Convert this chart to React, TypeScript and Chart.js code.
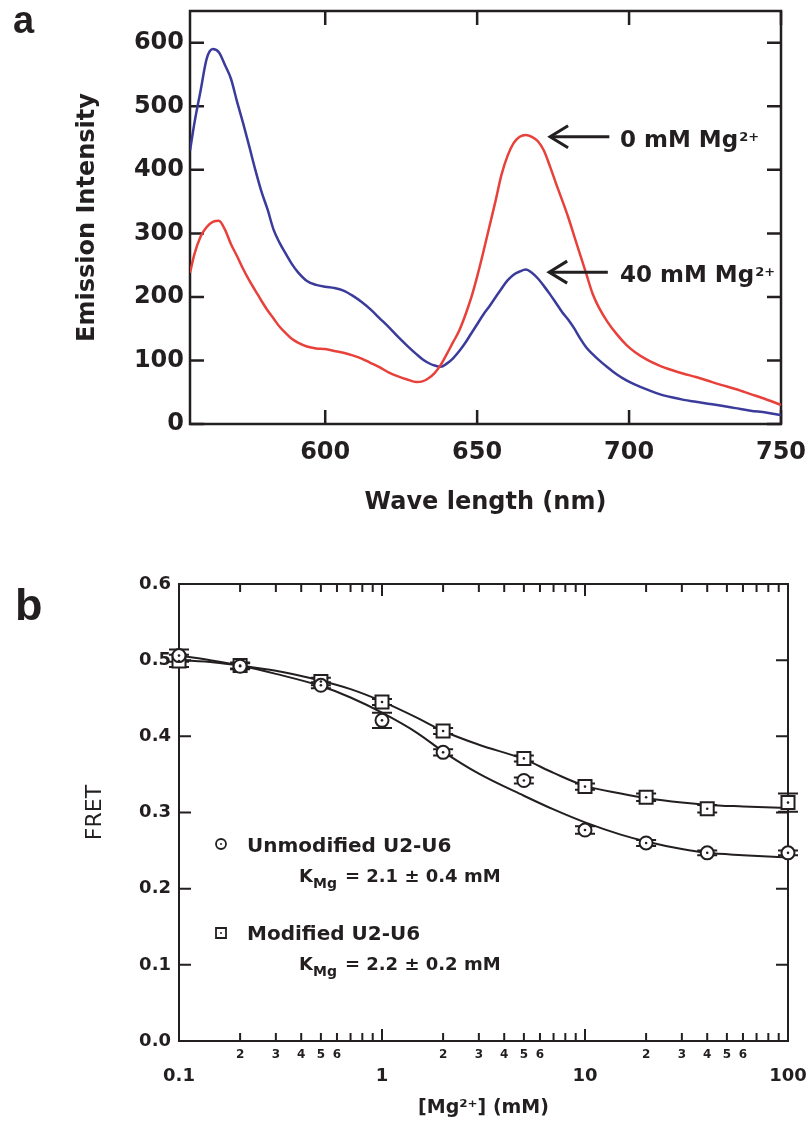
import React, { useEffect, useRef } from 'react';
import { Chart, registerables } from 'chart.js';

Chart.register(...registerables);

const SANS = "'DejaVu Sans', 'Liberation Sans', sans-serif";
const ARIAL = "'Liberation Sans', Arial, sans-serif";
const INK = '#231f20';
const RED = '#e8403a';
const BLUE = '#3a3b9b';

Chart.defaults.font.family = SANS;
Chart.defaults.color = INK;

// ---------------- Panel a: emission spectra ----------------
const wavelengthNm = [
  555.5, 557, 559, 561, 563, 565, 567, 569, 571, 573, 575, 577, 579, 581, 583, 585, 587, 589, 591, 594,
  597, 600, 603, 606, 609, 612, 615, 618, 621, 624, 627, 630, 632, 634, 636, 638, 640, 642, 644, 646,
  648, 650, 652, 654, 656, 658, 660, 662, 664, 666, 668, 670, 672, 674, 676, 678, 680, 682, 684, 686,
  688, 690, 693, 696, 699, 702, 706, 710, 714, 718, 722, 726, 730, 735, 740, 745, 750,
];
const emission0mMMg = [
  238, 268, 295, 310, 318, 320, 306, 283, 264, 244, 226, 210, 194, 179, 166, 153, 143, 134, 128, 122,
  119, 118, 115, 112, 108, 103, 96, 89, 81, 75, 70, 66, 67, 72, 80, 93, 110, 128, 146, 170,
  198, 232, 270, 310, 350, 392, 422, 442, 452, 455, 452, 445, 430, 405, 378, 352, 325, 295, 265, 235,
  205, 184, 160, 141, 125, 113, 101, 92, 85, 79, 74, 68, 62, 55, 47, 39, 30,
];
const emission40mMMg = [
  430, 475, 525, 575, 590, 585, 565, 543, 507, 473, 437, 400, 366, 338, 306, 285, 268, 252, 239, 225,
  219, 216, 214, 210, 202, 192, 180, 166, 152, 137, 123, 110, 102, 96, 92, 90, 95, 103, 114, 127,
  142, 157, 172, 185, 199, 213, 226, 235, 240, 243, 238, 229, 217, 204, 190, 176, 164, 150, 134, 120,
  110, 101, 89, 78, 69, 62, 54, 47, 42, 38, 35, 32, 29, 25, 21, 18, 14,
];
const wavelengthTicks = [600, 650, 700, 750];
const intensityTicks = [0, 100, 200, 300, 400, 500, 600];
const spectrumLabels = [
  { text: '0 mM Mg', sup: '2+', tipNm: 674, tailNm: 693.5, textNm: 697, level: 452 },
  { text: '40 mM Mg', sup: '2+', tipNm: 673.7, tailNm: 693, textNm: 697, level: 239 },
];

// ---------------- Panel b: Mg2+ titration ----------------
const mgConcMM = [0.1, 0.2, 0.5, 1, 2, 5, 10, 20, 40, 100];
const fretUnmodified = [0.506, 0.492, 0.467, 0.421, 0.379, 0.342, 0.277, 0.26, 0.247, 0.247];
const fretUnmodifiedErr = [0.008, 0.004, 0.004, 0.01, 0.004, 0.004, 0.005, 0.004, 0.003, 0.003];
const fretModified = [0.499, 0.493, 0.472, 0.445, 0.407, 0.371, 0.334, 0.32, 0.305, 0.313];
const fretModifiedErr = [0.008, 0.004, 0.005, 0.004, 0.004, 0.004, 0.004, 0.005, 0.005, 0.012];
const fitConcMM = [0.1, 0.15, 0.2, 0.3, 0.5, 0.7, 1, 1.5, 2, 3, 5, 7, 10, 15, 20, 30, 40, 60, 100];
const fitUnmodified = [0.506, 0.499, 0.493, 0.482, 0.466, 0.451, 0.431, 0.404, 0.38, 0.351, 0.322, 0.304, 0.287, 0.271, 0.262, 0.252, 0.247, 0.244, 0.241];
const fitModified = [0.5, 0.497, 0.493, 0.486, 0.473, 0.462, 0.446, 0.424, 0.407, 0.389, 0.37, 0.352, 0.335, 0.325, 0.319, 0.313, 0.31, 0.308, 0.306];
const mgTicks = [0.1, 0.2, 0.3, 0.4, 0.5, 0.6, 0.7, 0.8, 0.9, 1, 2, 3, 4, 5, 6, 7, 8, 9, 10, 20, 30, 40, 50, 60, 70, 80, 90, 100];
const mgTickLabels = ['0.1', '2', '3', '4', '5', '6', '', '', '', '1', '2', '3', '4', '5', '6', '', '', '', '10', '2', '3', '4', '5', '6', '', '', '', '100'];
const mgMajorTicks = [0.1, 1, 10, 100];
const fretTicks = [0, 0.1, 0.2, 0.3, 0.4, 0.5, 0.6];
const fretLegend = [
  { symbol: 'circle', name: 'Unmodified U2-U6', k: '= 2.1 ± 0.4 mM' },
  { symbol: 'rect', name: 'Modified U2-U6', k: '= 2.2 ± 0.2 mM' },
];

const xy = (xs: number[], ys: number[]) => xs.map((x, i) => ({ x, y: ys[i] }));

const fixSize = (dim: 'width' | 'height', size: number) => (s: any) => {
  s[dim] = size;
  s.paddingTop = 0;
  s.paddingBottom = 0;
  s.paddingLeft = 0;
  s.paddingRight = 0;
};

function framePlugin(lineWidth: number, majorLen: number, minorLen: number) {
  return {
    id: 'frameTicks',
    beforeDatasetsDraw(chart: any) {
      const { ctx, chartArea: a, scales } = chart;
      const x = scales.x;
      const y = scales.y;
      ctx.save();
      ctx.strokeStyle = INK;
      ctx.lineWidth = lineWidth;
      ctx.strokeRect(a.left, a.top, a.right - a.left, a.bottom - a.top);
      ctx.beginPath();
      for (const t of x.ticks) {
        const px = x.getPixelForValue(t.value);
        const len = t.major === false ? minorLen : majorLen;
        ctx.moveTo(px, a.bottom);
        ctx.lineTo(px, a.bottom - len);
        ctx.moveTo(px, a.top);
        ctx.lineTo(px, a.top + len);
      }
      for (const t of y.ticks) {
        const py = y.getPixelForValue(t.value);
        ctx.moveTo(a.left, py);
        ctx.lineTo(a.left + majorLen, py);
        ctx.moveTo(a.right, py);
        ctx.lineTo(a.right - majorLen, py);
      }
      ctx.stroke();
      // error bars (panel b)
      chart.data.datasets.forEach((ds: any) => {
        if (!ds.errorBars) return;
        ctx.lineWidth = 2;
        ctx.beginPath();
        ds.data.forEach((p: any, i: number) => {
          const e = ds.errorBars[i];
          const px = x.getPixelForValue(p.x);
          const yHi = y.getPixelForValue(p.y + e);
          const yLo = y.getPixelForValue(p.y - e);
          ctx.moveTo(px, yHi);
          ctx.lineTo(px, yLo);
          ctx.moveTo(px - 10, yHi);
          ctx.lineTo(px + 10, yHi);
          ctx.moveTo(px - 10, yLo);
          ctx.lineTo(px + 10, yLo);
        });
        ctx.stroke();
      });
      ctx.restore();
    },
  };
}

const spectrumAnnotations = {
  id: 'spectrumAnnotations',
  afterDraw(chart: any) {
    const { ctx, scales } = chart;
    const x = scales.x;
    const y = scales.y;
    ctx.save();
    ctx.fillStyle = INK;
    ctx.strokeStyle = INK;
    ctx.font = `bold 38px ${ARIAL}`;
    ctx.textBaseline = 'alphabetic';
    ctx.textAlign = 'left';
    ctx.fillText('a', 13, 33);
    for (const lab of spectrumLabels) {
      const tip = x.getPixelForValue(lab.tipNm);
      const tail = x.getPixelForValue(lab.tailNm);
      const py = y.getPixelForValue(lab.level);
      ctx.lineWidth = 3;
      ctx.lineCap = 'butt';
      ctx.beginPath();
      ctx.moveTo(tail, py);
      ctx.lineTo(tip + 2, py);
      ctx.stroke();
      ctx.beginPath();
      ctx.moveTo(tip + 18, py - 11);
      ctx.lineTo(tip, py);
      ctx.lineTo(tip + 18, py + 11);
      ctx.stroke();
      const tx = x.getPixelForValue(lab.textNm);
      ctx.font = `bold 23px ${SANS}`;
      ctx.fillText(lab.text, tx, py + 10);
      const w = ctx.measureText(lab.text).width;
      ctx.font = `bold 13px ${SANS}`;
      ctx.fillText(lab.sup, tx + w + 1, py + 4);
    }
    ctx.restore();
  },
};

const titrationAnnotations = {
  id: 'titrationAnnotations',
  afterDraw(chart: any) {
    const { ctx, chartArea: a } = chart;
    ctx.save();
    ctx.fillStyle = INK;
    ctx.strokeStyle = INK;
    ctx.textBaseline = 'alphabetic';
    ctx.textAlign = 'left';
    ctx.font = `bold 45px ${ARIAL}`;
    ctx.fillText('b', 15, 80);
    fretLegend.forEach((entry, i) => {
      const sx = a.left + 42;
      const sy = a.top + 260 + i * 89;
      ctx.lineWidth = 1.8;
      ctx.fillStyle = '#fff';
      ctx.beginPath();
      if (entry.symbol === 'circle') ctx.arc(sx, sy, 5, 0, Math.PI * 2);
      else ctx.rect(sx - 5, sy - 5, 10, 10);
      ctx.fill();
      ctx.stroke();
      ctx.fillStyle = INK;
      ctx.beginPath();
      ctx.arc(sx, sy, 1, 0, Math.PI * 2);
      ctx.fill();
      ctx.font = `bold 20px ${SANS}`;
      ctx.fillText(entry.name, a.left + 68, a.top + 268 + i * 88);
      const kx = a.left + 120;
      const ky = a.top + 298 + i * 88;
      ctx.font = `bold 18px ${SANS}`;
      ctx.fillText('K', kx, ky);
      const kw = ctx.measureText('K').width;
      ctx.font = `bold 14px ${SANS}`;
      ctx.fillText('Mg', kx + kw, ky + 6);
      const mw = ctx.measureText('Mg').width;
      ctx.font = `bold 18px ${SANS}`;
      ctx.fillText(entry.k, kx + kw + mw + 8, ky);
    });
    ctx.restore();
  },
};

function spectrumConfig(): any {
  return {
    type: 'line',
    data: {
      datasets: [
        { label: '0 mM Mg2+', data: xy(wavelengthNm, emission0mMMg), borderColor: RED, borderWidth: 2.5, pointRadius: 0, cubicInterpolationMode: 'monotone' },
        { label: '40 mM Mg2+', data: xy(wavelengthNm, emission40mMMg), borderColor: BLUE, borderWidth: 2.5, pointRadius: 0, cubicInterpolationMode: 'monotone' },
      ],
    },
    options: {
      responsive: false,
      maintainAspectRatio: false,
      animation: false,
      events: [],
      layout: { padding: { left: 0, right: 27, top: 11, bottom: 0 } },
      plugins: { legend: { display: false }, tooltip: { enabled: false } },
      scales: {
        x: {
          type: 'linear',
          min: 555.5,
          max: 750,
          afterBuildTicks: (s: any) => { s.ticks = wavelengthTicks.map((v) => ({ value: v })); },
          afterFit: fixSize('height', 116),
          grid: { display: false, drawTicks: false },
          border: { display: false },
          ticks: { autoSkip: false, maxRotation: 0, padding: 14.6, color: INK, font: { family: SANS, size: 24, weight: 'bold' }, callback: (v: any) => String(v) },
          title: { display: true, text: 'Wave length (nm)', color: INK, font: { family: SANS, size: 24, weight: 'bold' }, padding: { top: 0, bottom: 22.6 } },
        },
        y: {
          type: 'linear',
          min: 0,
          max: 650,
          afterBuildTicks: (s: any) => { s.ticks = intensityTicks.map((v) => ({ value: v })); },
          afterFit: fixSize('width', 190),
          grid: { display: false, drawTicks: false },
          border: { display: false },
          ticks: { autoSkip: false, padding: 6, color: INK, font: { family: SANS, size: 24, weight: 'bold' }, callback: (v: any) => String(v) },
          title: { display: true, text: 'Emission Intensity', color: INK, font: { family: SANS, size: 24, weight: 'bold' }, padding: { top: 73.6, bottom: 0 } },
        },
      },
    },
    plugins: [framePlugin(2.5, 14, 14), spectrumAnnotations],
  };
}

function titrationConfig(): any {
  const markerBase = { showLine: false, pointBorderWidth: 2, pointBackgroundColor: '#fff', pointBorderColor: INK, clip: false, order: 1 };
  const dotBase = { showLine: false, pointRadius: 1.3, pointBorderWidth: 0, pointBackgroundColor: INK, clip: false, order: 0 };
  const fitBase = { borderColor: INK, borderWidth: 2, pointRadius: 0, cubicInterpolationMode: 'monotone', order: 2 };
  return {
    type: 'line',
    data: {
      datasets: [
        { label: 'Unmodified fit', data: xy(fitConcMM, fitUnmodified), ...fitBase },
        { label: 'Modified fit', data: xy(fitConcMM, fitModified), ...fitBase },
        { label: 'Unmodified U2-U6', data: xy(mgConcMM, fretUnmodified), errorBars: fretUnmodifiedErr, pointStyle: 'circle', pointRadius: 6.5, ...markerBase },
        { label: 'Modified U2-U6', data: xy(mgConcMM, fretModified), errorBars: fretModifiedErr, pointStyle: 'rect', pointRadius: 9.2, ...markerBase },
        { label: 'u-dot', data: xy(mgConcMM, fretUnmodified), ...dotBase },
        { label: 'm-dot', data: xy(mgConcMM, fretModified), ...dotBase },
      ],
    },
    options: {
      responsive: false,
      maintainAspectRatio: false,
      animation: false,
      events: [],
      layout: { padding: { left: 0, right: 20, top: 44, bottom: 0 } },
      plugins: { legend: { display: false }, tooltip: { enabled: false } },
      scales: {
        x: {
          type: 'logarithmic',
          min: 0.1,
          max: 100,
          afterBuildTicks: (s: any) => { s.ticks = mgTicks.map((v) => ({ value: v, major: mgMajorTicks.includes(v) })); },
          afterFit: fixSize('height', 84),
          grid: { display: false, drawTicks: false },
          border: { display: false },
          ticks: {
            autoSkip: false,
            maxRotation: 0,
            padding: 6.6,
            color: INK,
            font: (c: any) => (c.tick && c.tick.major
              ? { family: SANS, size: 18, weight: 'bold', lineHeight: 3.15 }
              : { family: SANS, size: 12, weight: 'bold', lineHeight: 1.2 }),
            callback: (_v: any, i: number) => mgTickLabels[i],
          },
          title: { display: true, text: '[Mg²⁺] (mM)', color: INK, font: { family: SANS, size: 19, weight: 'bold' }, padding: { top: 0, bottom: 5.6 } },
        },
        y: {
          type: 'linear',
          min: 0,
          max: 0.6,
          afterBuildTicks: (s: any) => { s.ticks = fretTicks.map((v) => ({ value: v })); },
          afterFit: fixSize('width', 179),
          grid: { display: false, drawTicks: false },
          border: { display: false },
          ticks: { autoSkip: false, padding: 8, color: INK, font: { family: SANS, size: 18, weight: 'bold' }, callback: (v: any) => Number(v).toFixed(1) },
          title: { display: true, text: 'FRET', color: INK, font: { family: SANS, size: 22, weight: 'normal' }, padding: { top: 81.8, bottom: 0 } },
        },
      },
    },
    plugins: [framePlugin(2, 12, 8), titrationAnnotations],
  };
}

export default function App() {
  const topRef = useRef<HTMLCanvasElement>(null);
  const botRef = useRef<HTMLCanvasElement>(null);
  useEffect(() => {
    const c1 = new Chart(topRef.current as HTMLCanvasElement, spectrumConfig());
    const c2 = new Chart(botRef.current as HTMLCanvasElement, titrationConfig());
    return () => {
      c1.destroy();
      c2.destroy();
    };
  }, []);
  return (
    <div style={{ position: 'absolute', left: 0, top: 0, width: 808, height: 1125, background: '#fff' }}>
      <canvas ref={topRef} width={808} height={540} style={{ position: 'absolute', left: 0, top: 0, width: 808, height: 540 }} />
      <canvas ref={botRef} width={808} height={585} style={{ position: 'absolute', left: 0, top: 540, width: 808, height: 585 }} />
    </div>
  );
}
